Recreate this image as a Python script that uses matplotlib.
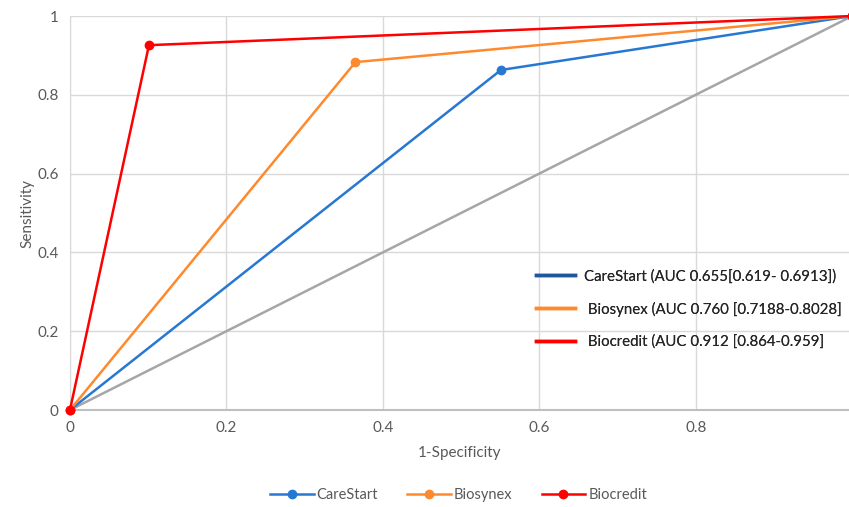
import matplotlib.pyplot as plt
from matplotlib.lines import Line2D

plt.rcParams['font.family'] = ['Lato', 'DejaVu Sans']

# ROC points (1-specificity, sensitivity)
names = ["CareStart", "Biosynex", "Biocredit"]
fpr = [[0, 0.551, 1], [0, 0.365, 1], [0, 0.101, 1]]
tpr = [[0, 0.863, 1], [0, 0.883, 1], [0, 0.926, 1]]
colors = ["#2678D2", "#FF8A2E", "#FF0000"]
box_colors = ["#1F56A0", "#FF8A2E", "#FF0000"]
box_labels = ["CareStart (AUC 0.655[0.619- 0.6913])",
              " Biosynex (AUC 0.760 [0.7188-0.8028]",
              " Biocredit (AUC 0.912 [0.864-0.959]"]
ref_line = [0, 1]
ticks = [0, 0.2, 0.4, 0.6, 0.8, 1]
tick_labels = ["0", "0.2", "0.4", "0.6", "0.8", "1"]

fig = plt.figure(figsize=(8.49, 5.07), dpi=100)
ax = fig.add_axes([0.0824, 0.1913, 0.9176, 0.7771])

ax.plot(ref_line, ref_line, color="#A6A6A6", lw=1.8, zorder=2)
for i in range(3):
    ax.plot(fpr[i], tpr[i], color=colors[i], lw=1.8, marker="o", ms=6,
            label=names[i], zorder=3 + i, clip_on=False)

ax.set_xlim(0, 0.996)
ax.set_ylim(0, 1)
ax.set_xticks(ticks[:-1])
ax.set_xticklabels(tick_labels[:-1])
ax.set_yticks(ticks)
ax.set_yticklabels(tick_labels)
ax.grid(True, color="#D9D9D9", lw=1)
ax.set_axisbelow(True)
for s in ["top", "right"]:
    ax.spines[s].set_visible(False)
ax.spines["left"].set_color("#D9D9D9")
ax.spines["bottom"].set_color("#BFBFBF")
ax.spines["bottom"].set_linewidth(1.5)
ax.tick_params(length=0, colors="#595959", labelsize=11, pad=8)

ax.set_xlabel("1-Specificity", color="#595959", fontsize=11, labelpad=8)
ax.set_ylabel("Sensitivity", color="#595959", fontsize=11, labelpad=2)

# AUC box inside the plot
box_handles = [Line2D([0], [0], color=c, lw=2.5) for c in box_colors]
leg = ax.legend(box_handles, box_labels, loc="center left",
                bbox_to_anchor=(0.598, 0.256), frameon=False, fontsize=10.8,
                handlelength=2.6, labelspacing=1.2, handletextpad=0.6,
                borderaxespad=0, borderpad=0)
for t in leg.get_texts():
    t.set_color("#262626")
ax.add_artist(leg)

# bottom legend
h, l = ax.get_legend_handles_labels()
fl = fig.legend(h, l, loc="center", bbox_to_anchor=(0.54, 0.024), ncol=3,
                frameon=False, fontsize=10.5, handlelength=3,
                handletextpad=0.2, columnspacing=2.0)
for t in fl.get_texts():
    t.set_color("#595959")

plt.savefig("out.png", dpi=100)
